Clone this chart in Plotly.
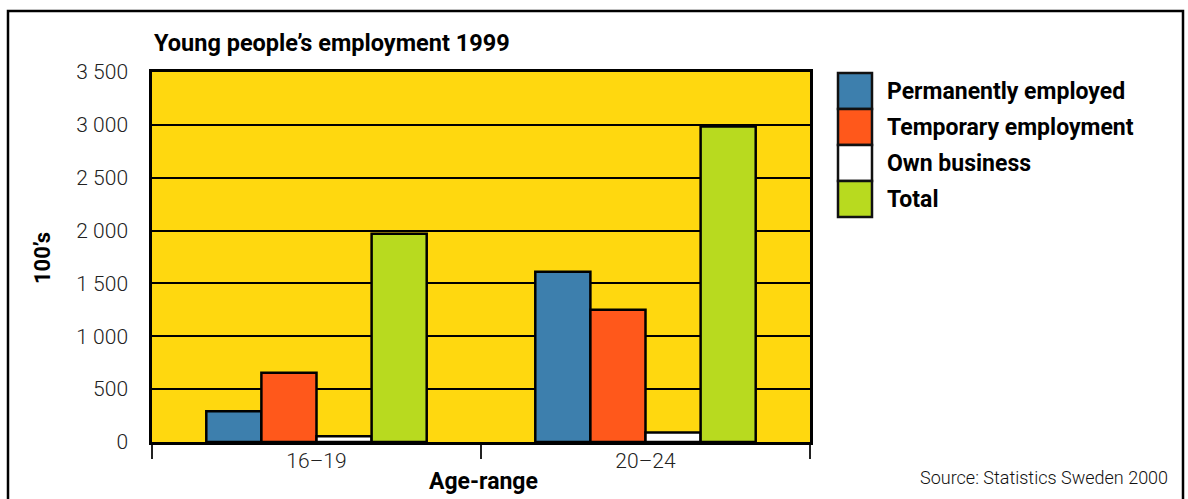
import plotly.graph_objects as go

# Young people's employment in Sweden, 1999 (in hundreds)
age_ranges = ["16–19", "20–24"]
series_names = ["Permanently employed", "Temporary employment", "Own business", "Total"]
permanent = [290, 1610]
temporary = [655, 1250]
own_business = [55, 90]
total = [1970, 2985]
series_values = [permanent, temporary, own_business, total]
series_colors = ["#3D7FAD", "#FF581B", "#FFFFFF", "#B8DA1F"]
y_ticks = [0, 500, 1000, 1500, 2000, 2500, 3000, 3500]

FONT = "Roboto, Liberation Sans, sans-serif"

fig = go.Figure()
for name, vals, col in zip(series_names, series_values, series_colors):
    fig.add_trace(go.Bar(
        x=age_ranges, y=vals, name=name,
        marker=dict(color=col, line=dict(color="#000000", width=2.5)),
        showlegend=False,
    ))

W, H = 1188, 499
L, R, T, B = 152, 378, 72, 57
pw, ph = W - L - R, H - T - B


def px(x):
    return (x - L) / pw


def py(y):
    return (H - B - y) / ph


shapes = [
    # outer frame
    dict(type="rect", xref="paper", yref="paper",
         x0=px(8), x1=px(1183), y0=py(520), y1=py(11),
         line=dict(color="#000000", width=2.5), fillcolor="rgba(0,0,0,0)"),
]
annotations = [
    dict(text="<b>Young people’s employment 1999</b>", xref="paper", yref="paper",
         x=0, y=py(43), xanchor="left", yanchor="middle", showarrow=False,
         font=dict(family=FONT, size=23.5, color="#000000")),
    dict(text="<b>100’s</b>", xref="paper", yref="paper", textangle=-90,
         x=px(42), y=py(258), xanchor="center", yanchor="middle", showarrow=False,
         font=dict(family=FONT, size=22, color="#000000")),
    dict(text="<b>Age-range</b>", xref="paper", yref="paper",
         x=px(483), y=py(481), xanchor="center", yanchor="middle", showarrow=False,
         font=dict(family=FONT, size=23, color="#000000")),
    dict(text="Source: Statistics Sweden 2000", xref="paper", yref="paper",
         x=px(1170), y=py(478), xanchor="right", yanchor="middle", showarrow=False,
         font=dict(family=FONT, size=18, color="#111111", weight=300)),
]

# legend: stacked colour boxes with bold labels
box_top, box_h = 73, 36
for i, (name, col) in enumerate(zip(series_names, series_colors)):
    y0 = box_top + i * box_h
    shapes.append(dict(type="rect", xref="paper", yref="paper",
                       x0=px(838), x1=px(872), y0=py(y0 + box_h), y1=py(y0),
                       line=dict(color="#111111", width=2.5), fillcolor=col))
    annotations.append(dict(text=f"<b>{name}</b>", xref="paper", yref="paper",
                            x=px(885), y=py(y0 + box_h / 2), xanchor="left", yanchor="middle",
                            showarrow=False,
                            font=dict(family=FONT, size=23, color="#000000")))

fig.update_layout(
    width=W, height=H,
    margin=dict(l=L, r=R, t=T, b=B, autoexpand=False),
    paper_bgcolor="#FFFFFF",
    plot_bgcolor="#FFD80F",
    barmode="group",
    bargap=0.33,
    bargroupgap=0,
    separators=", ",
    shapes=shapes,
    annotations=annotations,
    xaxis=dict(
        range=[-0.5, 1.5],
        showline=True, linecolor="#000000", linewidth=2.5, mirror=True,
        ticks="outside", tickson="boundaries", ticklen=14, tickwidth=2, tickcolor="#222222",
        ticklabelstandoff=-2,
        showgrid=False,
        tickfont=dict(family=FONT, size=21, color="#222222", weight=300),
    ),
    yaxis=dict(
        range=[0, 3500],
        tickvals=y_ticks, tickformat=",d",
        showline=True, linecolor="#000000", linewidth=2.5, mirror=True,
        showgrid=True, gridcolor="#000000", gridwidth=2,
        zeroline=False, ticks="",
        ticklabelstandoff=17,
        tickfont=dict(family=FONT, size=21, color="#222222", weight=300),
    ),
    font=dict(family=FONT),
)

fig.write_html("out.html")
